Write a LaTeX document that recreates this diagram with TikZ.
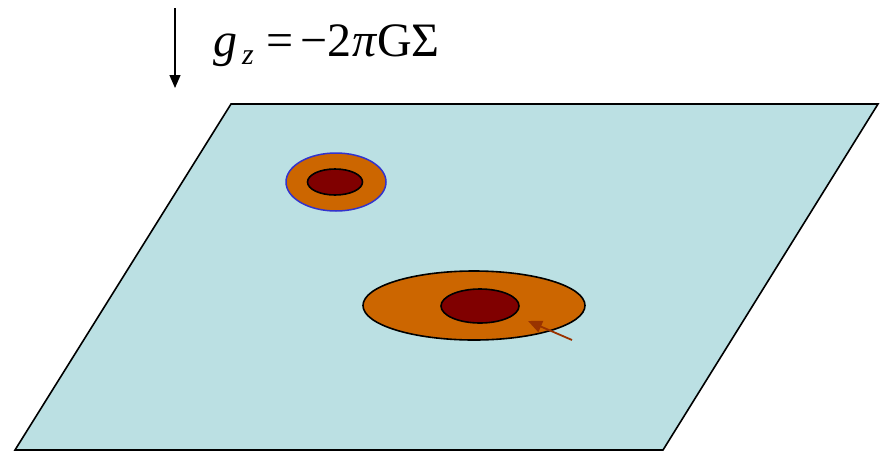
\documentclass[tikz,border=0pt]{standalone}
\usepackage{fontspec}
\setmainfont{Liberation Serif}
\usetikzlibrary{arrows.meta}
\definecolor{plane}{HTML}{BBE0E3}
\definecolor{ring}{HTML}{CC6600}
\definecolor{core}{HTML}{800000}
\definecolor{rim}{HTML}{3333CC}
\definecolor{pointer}{HTML}{993300}
\tikzset{
  outline/.style={line width=1.6pt, draw=black},
  tip/.style={-{Triangle[length=13pt,width=11pt]}},
}
\begin{document}
\begin{tikzpicture}[x=1pt,y=1pt]
\useasboundingbox (0,0) rectangle (882,-453);
% plane
\filldraw[outline, fill=plane, line join=miter] (231,-104) -- (878,-104) -- (663,-450) -- (15,-450) -- cycle;
% small blob
\filldraw[line width=1.5pt, draw=rim, fill=ring] (336,-182) ellipse [x radius=50, y radius=29];
\filldraw[outline, fill=core] (335,-182) ellipse [x radius=27.5, y radius=13];
% large blob
\filldraw[outline, fill=ring] (474,-305.5) ellipse [x radius=111, y radius=34.5];
\filldraw[outline, fill=core] (480,-306) ellipse [x radius=39, y radius=17];
% pointer arrow
\coordinate (ps) at (572,-340);
\coordinate (pe) at (528,-321);
\draw[pointer, line width=1.8pt, -{Triangle[length=14pt,width=12pt]}] (ps) -- (pe);
% gravity arrow
\coordinate (gs) at (175,-8);
\coordinate (ge) at (175,-88);
\draw[line width=1.3pt, tip] (gs) -- (ge);
% label
\node[anchor=base west, inner sep=0pt, font=\fontsize{48}{52}\selectfont] (lbl) at (213,-56)
  {\textit{g}\hspace{5pt}\raisebox{-8pt}{\fontsize{30}{32}\selectfont\textit{z}}\hspace{13pt}=\hspace{7pt}−2\textit{π}GΣ};
\end{tikzpicture}
\end{document}
